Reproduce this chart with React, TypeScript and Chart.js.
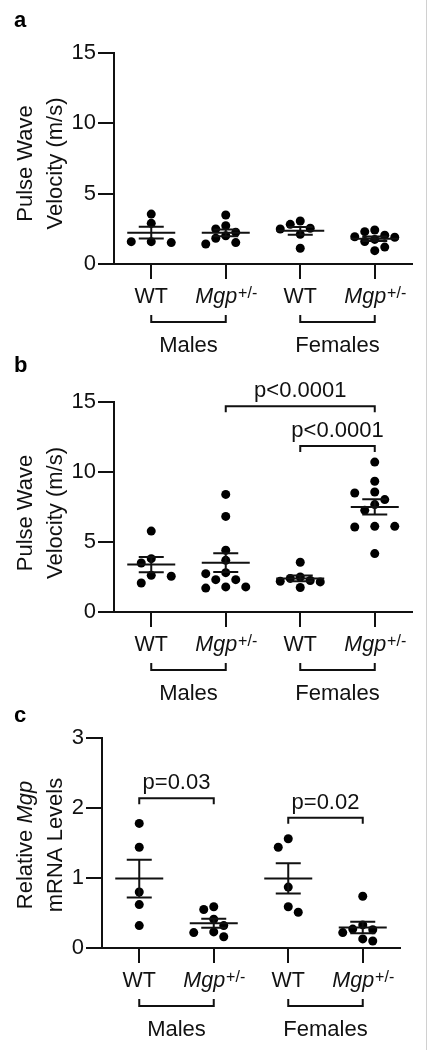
import React, { useEffect, useRef } from "react";
import { Chart, registerables } from "chart.js";

Chart.register(...registerables);

const FONT = '"Liberation Sans", Arial, Helvetica, sans-serif';
const INK = "#111111";
const W = 436;

// ---------------- data ----------------
const genotypeLabels = ["WT", "Mgp", "WT", "Mgp"];
const genotypeItalic = [false, true, false, true];
const genotypeSuperscript = ["", "+/-", "", "+/-"];
const sexLabels = ["Males", "Females"];

const yTicksPwv = [0, 5, 10, 15];
const yTicksMrna = [0, 1, 2, 3];

// Panel a – pulse wave velocity (m/s)
const pwvA_WT_males = [3.55, 2.89, 1.59, 1.59, 1.52];
const pwvA_Mgp_males = [3.48, 2.72, 2.49, 2.25, 2.01, 1.83, 1.52, 1.42];
const pwvA_WT_females = [3.06, 2.82, 2.54, 2.49, 2.11, 1.12];
const pwvA_Mgp_females = [2.42, 2.3, 2.05, 1.94, 1.9, 1.75, 1.6, 1.2, 0.95];

// Panel b – pulse wave velocity (m/s)
const pwvB_WT_males = [5.78, 3.81, 3.5, 2.62, 2.55, 2.07];
const pwvB_Mgp_males = [8.4, 6.83, 4.41, 3.69, 2.81, 2.74, 2.31, 2.31, 1.79, 1.79, 1.71];
const pwvB_WT_females = [3.55, 2.5, 2.4, 2.25, 2.2, 2.15, 1.75];
const pwvB_Mgp_females = [10.71, 9.34, 8.57, 8.5, 8.03, 7.67, 7.26, 6.12, 6.12, 6.07, 4.17];

const sigB_from = [1, 2];
const sigB_to = [3, 3];
const sigB_level = [14.7, 11.85];
const sigB_text = ["p<0.0001", "p<0.0001"];

// Panel c – relative Mgp mRNA levels
const mrnaC_WT_males = [1.78, 1.44, 0.8, 0.62, 0.32];
const mrnaC_Mgp_males = [0.59, 0.55, 0.41, 0.32, 0.23, 0.22, 0.16];
const mrnaC_WT_females = [1.56, 1.44, 0.87, 0.59, 0.51];
const mrnaC_Mgp_females = [0.74, 0.33, 0.27, 0.26, 0.22, 0.13, 0.1];

const sigC_from = [0, 2];
const sigC_to = [1, 3];
const sigC_level = [2.14, 1.86];
const sigC_text = ["p=0.03", "p=0.02"];

// ---------------- layout / styling ----------------
type Seg = { t: string; italic?: boolean };
type PanelSpec = {
  letter: string;
  groups: number[][];
  yTicks: number[];
  title: Seg[][];
  sigFrom: number[];
  sigTo: number[];
  sigLevel: number[];
  sigText: string[];
  canvasTop: number;
  canvasH: number;
  plotLeft: number;
  plotRight: number;
  plotTop: number;
  plotBottom: number;
  letterY: number;
  titleShift: number;
};

const pwvTitle: Seg[][] = [[{ t: "Pulse Wave" }], [{ t: "Velocity (m/s)" }]];
const mrnaTitle: Seg[][] = [
  [{ t: "Relative " }, { t: "Mgp", italic: true }],
  [{ t: "mRNA Levels" }],
];

const panels: PanelSpec[] = [
  {
    letter: "a",
    groups: [pwvA_WT_males, pwvA_Mgp_males, pwvA_WT_females, pwvA_Mgp_females],
    yTicks: yTicksPwv,
    title: pwvTitle,
    sigFrom: [],
    sigTo: [],
    sigLevel: [],
    sigText: [],
    canvasTop: 0,
    canvasH: 355,
    plotLeft: 114,
    plotRight: 412,
    plotTop: 53,
    plotBottom: 264,
    letterY: 27,
    titleShift: 5,
  },
  {
    letter: "b",
    groups: [pwvB_WT_males, pwvB_Mgp_males, pwvB_WT_females, pwvB_Mgp_females],
    yTicks: yTicksPwv,
    title: pwvTitle,
    sigFrom: sigB_from,
    sigTo: sigB_to,
    sigLevel: sigB_level,
    sigText: sigB_text,
    canvasTop: 355,
    canvasH: 350,
    plotLeft: 114,
    plotRight: 412,
    plotTop: 47,
    plotBottom: 257,
    letterY: 17,
    titleShift: 6,
  },
  {
    letter: "c",
    groups: [mrnaC_WT_males, mrnaC_Mgp_males, mrnaC_WT_females, mrnaC_Mgp_females],
    yTicks: yTicksMrna,
    title: mrnaTitle,
    sigFrom: sigC_from,
    sigTo: sigC_to,
    sigLevel: sigC_level,
    sigText: sigC_text,
    canvasTop: 705,
    canvasH: 345,
    plotLeft: 102,
    plotRight: 400,
    plotTop: 33,
    plotBottom: 243,
    letterY: 17,
    titleShift: 2,
  },
];

const DOT_R = 4.5;
const SLOT_PX = 10;
const MIN_DIST = 9;
const SAME_ROW_PX = 1.2;

// beeswarm placement: compute horizontal offsets from the values (no overlap)
function swarm(values: number[], cat: number, spec: PanelSpec) {
  const yMax = spec.yTicks[spec.yTicks.length - 1];
  const pxPerY = (spec.plotBottom - spec.plotTop) / yMax;
  const pxPerCat = (spec.plotRight - spec.plotLeft) / genotypeLabels.length;
  const sorted = [...values].sort((a, b) => b - a);
  const placed: { slot: number; v: number }[] = [];
  for (const v of sorted) {
    let chosen = 0;
    for (let k = 0; k < 12; k++) {
      const left = placed.filter((p) => p.slot < 0).length;
      const right = placed.filter((p) => p.slot > 0).length;
      const cands = k === 0 ? [0] : right < left ? [k, -k] : [-k, k];
      let found: number | null = null;
      for (const s of cands) {
        const ok = placed.every((p) => {
          const dx = (p.slot - s) * SLOT_PX;
          const dy = (p.v - v) * pxPerY;
          if (Math.abs(dy) < SAME_ROW_PX && Math.abs(dx) < 2 * SLOT_PX) return false;
          return dx * dx + dy * dy >= MIN_DIST * MIN_DIST;
        });
        if (ok) {
          found = s;
          break;
        }
      }
      if (found !== null) {
        chosen = found;
        break;
      }
    }
    placed.push({ slot: chosen, v });
  }
  return placed.map((p) => ({ x: cat + (p.slot * SLOT_PX) / pxPerCat, y: p.v }));
}

function font(size: number, italic = false, bold = false) {
  return `${italic ? "italic " : ""}${bold ? "bold " : ""}${size}px ${FONT}`;
}

function drawSegs(ctx: CanvasRenderingContext2D, segs: Seg[], cx: number, baseline: number, size: number) {
  const widths = segs.map((s) => {
    ctx.font = font(size, !!s.italic);
    return ctx.measureText(s.t).width;
  });
  const total = widths.reduce((a, b) => a + b, 0);
  let x = cx - total / 2;
  segs.forEach((s, i) => {
    ctx.font = font(size, !!s.italic);
    ctx.fillText(s.t, x, baseline);
    x += widths[i];
  });
}

function makeDecor(spec: PanelSpec) {
  return {
    id: "decor-" + spec.letter,
    afterDatasetsDraw(chart: any) {
      const ctx: CanvasRenderingContext2D = chart.ctx;
      const xs = chart.scales.x;
      const ys = chart.scales.y;
      ctx.save();
      ctx.strokeStyle = INK;
      ctx.lineWidth = 2;
      spec.groups.forEach((vals, i) => {
        const n = vals.length;
        const mean = vals.reduce((a, b) => a + b, 0) / n;
        const sd = Math.sqrt(vals.reduce((a, b) => a + (b - mean) * (b - mean), 0) / (n - 1));
        const sem = sd / Math.sqrt(n);
        const cx = xs.getPixelForValue(i);
        const ym = ys.getPixelForValue(mean);
        const yh = ys.getPixelForValue(mean + sem);
        const yl = ys.getPixelForValue(mean - sem);
        ctx.beginPath();
        ctx.moveTo(cx - 24, ym);
        ctx.lineTo(cx + 24, ym);
        ctx.moveTo(cx - 12.5, yh);
        ctx.lineTo(cx + 12.5, yh);
        ctx.moveTo(cx - 12.5, yl);
        ctx.lineTo(cx + 12.5, yl);
        ctx.moveTo(cx, yh);
        ctx.lineTo(cx, yl);
        ctx.stroke();
      });
      ctx.restore();
    },
    afterDraw(chart: any) {
      const ctx: CanvasRenderingContext2D = chart.ctx;
      const xs = chart.scales.x;
      const ys = chart.scales.y;
      const area = chart.chartArea;
      const yb = area.bottom;
      ctx.save();
      ctx.fillStyle = INK;
      ctx.strokeStyle = INK;
      ctx.lineWidth = 2;
      ctx.textBaseline = "alphabetic";
      ctx.textAlign = "left";

      // category labels
      genotypeLabels.forEach((lab, i) => {
        const cx = xs.getPixelForValue(i);
        const base = yb + 38.5;
        const mainSize = 21.5;
        const supSize = 16;
        ctx.font = font(mainSize, genotypeItalic[i]);
        const w1 = ctx.measureText(lab).width;
        const sup = genotypeSuperscript[i];
        ctx.font = font(supSize);
        const w2 = sup ? ctx.measureText(sup).width : 0;
        const x0 = cx - (w1 + w2) / 2;
        ctx.font = font(mainSize, genotypeItalic[i]);
        ctx.fillText(lab, x0, base);
        if (sup) {
          ctx.font = font(supSize);
          ctx.fillText(sup, x0 + w1 + 1, base - 5);
        }
      });

      // sex brackets
      sexLabels.forEach((lab, k) => {
        const x1 = xs.getPixelForValue(2 * k);
        const x2 = xs.getPixelForValue(2 * k + 1);
        const yl = yb + 58;
        ctx.beginPath();
        ctx.moveTo(x1, yl - 7);
        ctx.lineTo(x1, yl);
        ctx.lineTo(x2, yl);
        ctx.lineTo(x2, yl - 7);
        ctx.stroke();
        ctx.font = font(22);
        ctx.textAlign = "center";
        ctx.fillText(lab, (x1 + x2) / 2, yb + 88);
        ctx.textAlign = "left";
      });

      // significance brackets
      spec.sigText.forEach((txt, i) => {
        const x1 = xs.getPixelForValue(spec.sigFrom[i]);
        const x2 = xs.getPixelForValue(spec.sigTo[i]);
        const yl = ys.getPixelForValue(spec.sigLevel[i]);
        ctx.beginPath();
        ctx.moveTo(x1, yl + 6);
        ctx.lineTo(x1, yl);
        ctx.lineTo(x2, yl);
        ctx.lineTo(x2, yl + 6);
        ctx.stroke();
        ctx.font = font(22);
        ctx.textAlign = "center";
        ctx.fillText(txt, (x1 + x2) / 2, yl - 9);
        ctx.textAlign = "left";
      });

      // y-axis title (two rotated lines)
      const cy = (area.top + area.bottom) / 2 + spec.titleShift;
      spec.title.forEach((line, li) => {
        ctx.save();
        ctx.translate(32 + li * 30, cy);
        ctx.rotate(-Math.PI / 2);
        drawSegs(ctx, line, 0, 0, 22);
        ctx.restore();
      });

      // panel letter
      ctx.font = font(22, false, true);
      ctx.fillStyle = "#000";
      ctx.fillText(spec.letter, 14, spec.letterY);
      ctx.restore();
    },
  };
}

function buildConfig(spec: PanelSpec): any {
  const yMax = spec.yTicks[spec.yTicks.length - 1];
  return {
    type: "scatter",
    data: {
      datasets: spec.groups.map((vals, gi) => ({
        data: swarm(vals, gi, spec),
        pointRadius: DOT_R,
        pointHoverRadius: DOT_R,
        pointBackgroundColor: "#000",
        pointBorderWidth: 0,
        pointBorderColor: "#000",
      })),
    },
    options: {
      animation: false,
      responsive: false,
      events: [],
      layout: { padding: { left: 0, top: spec.plotTop, right: W - spec.plotRight, bottom: 0 } },
      plugins: { legend: { display: false }, tooltip: { enabled: false } },
      scales: {
        x: {
          type: "linear",
          min: -0.5,
          max: genotypeLabels.length - 0.5,
          afterBuildTicks: (s: any) => {
            s.ticks = genotypeLabels.map((_, i) => ({ value: i }));
          },
          afterFit: (s: any) => {
            s.height = spec.canvasH - spec.plotBottom;
          },
          ticks: { display: false },
          grid: { display: true, drawOnChartArea: false, drawTicks: true, tickLength: 15, color: INK, lineWidth: 2 },
          border: { display: true, color: INK, width: 2 },
        },
        y: {
          type: "linear",
          min: 0,
          max: yMax,
          afterBuildTicks: (s: any) => {
            s.ticks = spec.yTicks.map((v) => ({ value: v }));
          },
          afterFit: (s: any) => {
            s.width = spec.plotLeft;
          },
          ticks: { font: { family: FONT, size: 22 }, color: INK, padding: 2 },
          grid: { display: true, drawOnChartArea: false, drawTicks: true, tickLength: 16, color: INK, lineWidth: 2 },
          border: { display: true, color: INK, width: 2 },
        },
      },
    },
    plugins: [makeDecor(spec)],
  };
}

function Panel({ spec }: { spec: PanelSpec }) {
  const ref = useRef<HTMLCanvasElement>(null);
  useEffect(() => {
    if (!ref.current) return;
    const chart = new Chart(ref.current, buildConfig(spec));
    return () => chart.destroy();
  }, [spec]);
  return (
    <canvas
      ref={ref}
      width={W}
      height={spec.canvasH}
      style={{ position: "absolute", left: 0, top: spec.canvasTop, width: W, height: spec.canvasH, display: "block" }}
    />
  );
}

export default function App() {
  return (
    <div style={{ position: "absolute", left: 0, top: 0, width: W, height: 1050, background: "#fff", overflow: "hidden" }}>
      {panels.map((p) => (
        <Panel key={p.letter} spec={p} />
      ))}
      <div style={{ position: "absolute", left: 426, top: 0, width: 1, height: 1050, background: "#d0d0d0" }} />
    </div>
  );
}
